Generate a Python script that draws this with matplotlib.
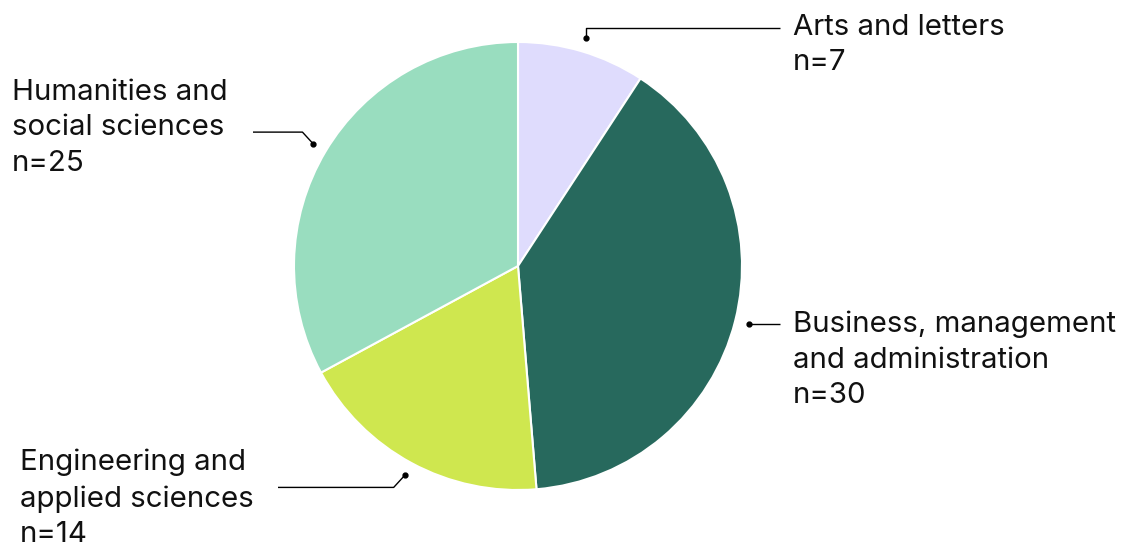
import numpy as np
import matplotlib.pyplot as plt

plt.rcParams['font.family'] = ['Inter', 'DejaVu Sans']

labels = ['Arts and letters', 'Business, management\nand administration',
          'Engineering and\napplied sciences', 'Humanities and\nsocial sciences']
counts = [7, 30, 14, 25]
colors = ['#DFDCFD', '#27695D', '#CFE74F', '#99DDBF']

W, H = 1121, 550
fig = plt.figure(figsize=(W / 100, H / 100), dpi=100)
ax = fig.add_axes([0, 0, 1, 1])
ax.set_xlim(0, W)
ax.set_ylim(0, H)
ax.set_aspect('equal')
ax.axis('off')

cx, cy, r = 518, H - 266, 224
wedges, _ = ax.pie(counts, colors=colors, startangle=90, counterclock=False,
                   center=(cx, cy), radius=r,
                   wedgeprops=dict(edgecolor='white', linewidth=1.5))
ax.set_xlim(0, W)
ax.set_ylim(0, H)

# label layout: (elbow offset dx, dy), line end x, text x, text top y
layout = [
    ((0, 10), 780, 793, 14),
    ((0, 0), 780, 793, 311),
    ((-11, -12), 278, 20, 449),
    ((-11, 12), 253, 12, 79),
]

for w, n, lab, (off, xend, tx, ty) in zip(wedges, counts, labels, layout):
    mid = np.deg2rad((w.theta1 + w.theta2) / 2)
    dx = cx + r * 1.063 * np.cos(mid)
    dy = cy + r * 1.063 * np.sin(mid)
    ex, ey = dx + off[0], dy + off[1]
    ax.plot([dx, ex, xend], [dy, ey, ey], color='black', lw=1, solid_capstyle='butt')
    ax.plot(dx, dy, 'o', color='black', ms=3.5)
    ax.text(tx, H - ty, f'{lab}\nn={n}', fontsize=21.2, va='top', ha='left',
            linespacing=1.4, color='#111111')

fig.savefig('out.png', dpi=100)
